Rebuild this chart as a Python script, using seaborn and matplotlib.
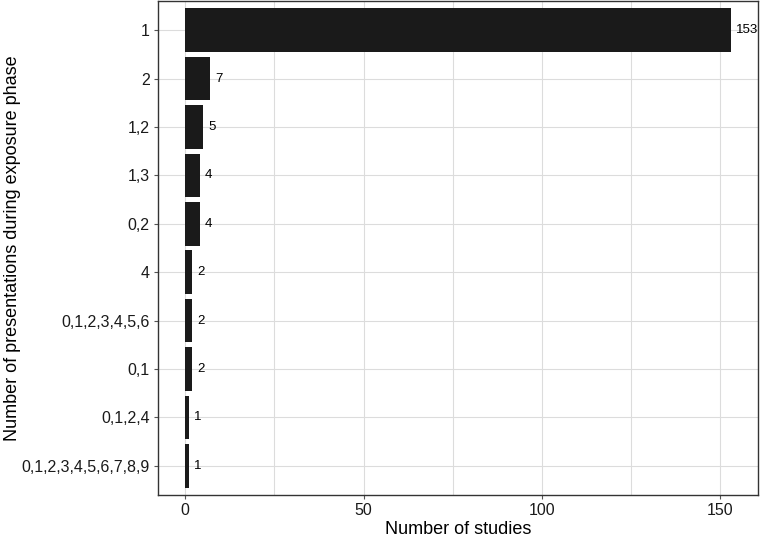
import pandas as pd
import matplotlib.pyplot as plt
import seaborn as sns

# Data (top to bottom)
presentations = ["1", "2", "1,2", "1,3", "0,2", "4", "0,1,2,3,4,5,6",
                 "0,1", "0,1,2,4", "0,1,2,3,4,5,6,7,8,9"]
n_studies = [153, 7, 5, 4, 4, 2, 2, 2, 1, 1]

df = pd.DataFrame({"presentations": presentations, "studies": n_studies})

sns.set_style("whitegrid")
plt.rcParams["font.family"] = ["Liberation Sans", "DejaVu Sans"]

fig = plt.figure(figsize=(7.62, 5.37), dpi=100)
ax = fig.add_axes([0.2073, 0.0786, 0.7875, 0.9192])

sns.barplot(data=df, x="studies", y="presentations", order=presentations,
            color="#1a1a1a", saturation=1, width=0.9, linewidth=0, ax=ax)

for i, v in enumerate(n_studies):
    ax.text(v + 1.4, i, str(v), va="center", ha="left", fontsize=9.5, color="#000000")

ax.set_xlim(-7.65, 160.65)
ax.set_ylim(len(presentations) - 0.4, -0.6)
ax.set_xticks([0, 50, 100, 150])
ax.set_xticks([25, 75, 125], minor=True)
ax.grid(True, which="both", axis="x", color="#dcdcdc", linewidth=0.8)
ax.grid(True, axis="y", color="#dcdcdc", linewidth=0.8)
ax.set_axisbelow(True)

ax.set_xlabel("Number of studies", fontsize=13, color="#000000", labelpad=2)
ax.set_ylabel("Number of presentations during exposure phase", fontsize=13,
              color="#000000")
ax.yaxis.set_label_coords(-0.229, 0.5)
ax.tick_params(axis="both", which="major", labelsize=11.5, labelcolor="#1a1a1a",
               length=3, color="#555555", width=0.8, pad=3, left=True, bottom=True)
ax.tick_params(axis="x", which="minor", length=0)

for side in ["left", "bottom", "right", "top"]:
    ax.spines[side].set_visible(True)
    ax.spines[side].set_color("#333333")
    ax.spines[side].set_linewidth(1.0)

fig.savefig("out.png", dpi=100)
